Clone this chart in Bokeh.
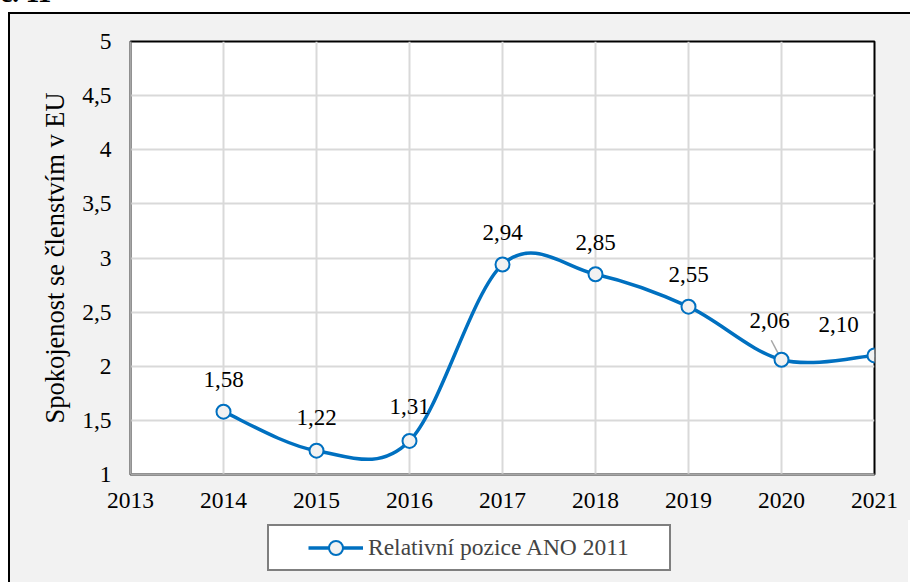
from bokeh.plotting import figure
from bokeh.models import (FixedTicker, Legend, LegendItem, ColumnDataSource, Range1d, Div)
from bokeh.layouts import column
from bokeh.core.properties import value
from bokeh.embed import file_html
from bokeh.resources import INLINE

# ---- data ----
years = [2014, 2015, 2016, 2017, 2018, 2019, 2020, 2021]
values = [1.58, 1.22, 1.31, 2.94, 2.85, 2.55, 2.06, 2.10]
value_labels = ["1,58", "1,22", "1,31", "2,94", "2,85", "2,55", "2,06", "2,10"]
x_ticks = [2013, 2014, 2015, 2016, 2017, 2018, 2019, 2020, 2021]
y_ticks = [1, 1.5, 2, 2.5, 3, 3.5, 4, 4.5, 5]
y_tick_labels = ["1", "1,5", "2", "2,5", "3", "3,5", "4", "4,5", "5"]
series_name = "Relativní pozice ANO 2011"
y_title = "Spokojenost se členstvím v EU"
heading = "Graf č. 11"

# label placement (pixels relative to point)
label_dx = [0, 0, 0, 0, 0, 0, -12, -36]
label_dy = [-32, -33, -34, -32, -32, -32, -39, -31]

FONT = "Liberation Serif"
BLUE = "#0070C0"
BG = "#F2F2F2"

p = figure(frame_width=742, frame_height=431, output_backend="svg", toolbar_location=None,
           x_range=Range1d(2013, 2021), y_range=Range1d(1, 5),
           min_border_left=120, min_border_right=38, min_border_top=27,
           min_border_bottom=48)
p.margin = (0, 0, 0, 8)
p.styles = {"border-top": "2px solid black", "border-left": "2px solid black",
            "background-color": BG}
p.border_fill_color = BG
p.background_fill_color = "white"
p.outline_line_color = "black"
p.outline_line_width = 2

# grid (boundary lines are drawn by the frame / axes)
p.xgrid.ticker = FixedTicker(ticks=x_ticks[1:-1])
p.ygrid.ticker = FixedTicker(ticks=y_ticks[1:-1])
for g in (p.xgrid[0], p.ygrid[0]):
    g.grid_line_color = "#D9D9D9"
    g.grid_line_width = 2

# axes
p.xaxis.ticker = FixedTicker(ticks=x_ticks)
p.yaxis.ticker = FixedTicker(ticks=y_ticks)
p.yaxis.major_label_overrides = {t: l for t, l in zip(y_ticks, y_tick_labels)}
p.xaxis.major_label_overrides = {t: str(t) for t in x_ticks}
for ax in (p.xaxis[0], p.yaxis[0]):
    ax.axis_line_color = "#A6A6A6"
    ax.axis_line_width = 2
    ax.major_tick_line_color = None
    ax.minor_tick_line_color = None
    ax.major_tick_out = 0
    ax.major_tick_in = 0
    ax.major_label_text_font = FONT
    ax.major_label_text_font_size = "23.5px"
    ax.major_label_text_color = "black"
p.xaxis.major_label_standoff = 18
p.yaxis.major_label_standoff = 19
p.yaxis.axis_label = y_title
p.yaxis.axis_label_text_font = FONT
p.yaxis.axis_label_text_font_size = "26.5px"
p.yaxis.axis_label_text_font_style = "normal"
p.yaxis.axis_label_text_color = "black"
p.yaxis.axis_label_standoff = 9

# smooth curve (Catmull-Rom style bezier segments from the data)
n = len(years)
x0, y0, x1, y1, cx0, cy0, cx1, cy1 = [], [], [], [], [], [], [], []
for i in range(n - 1):
    pa = i - 1 if i > 0 else i
    pd = i + 2 if i + 2 < n else i + 1
    x0.append(years[i]); y0.append(values[i])
    x1.append(years[i + 1]); y1.append(values[i + 1])
    cx0.append(years[i] + (years[i + 1] - years[pa]) / 6)
    cy0.append(values[i] + (values[i + 1] - values[pa]) / 6)
    cx1.append(years[i + 1] - (years[pd] - years[i]) / 6)
    cy1.append(values[i + 1] - (values[pd] - values[i]) / 6)
curve_kw = dict(x0=x0, y0=y0, x1=x1, y1=y1, cx0=cx0, cy0=cy0, cx1=cx1, cy1=cy1,
                line_color=BLUE, line_width=3.5)
p.bezier(**curve_kw)

# leader line for 2020 label
i20 = years.index(2020)
p.segment(x0=[years[i20] - 0.025], y0=[values[i20] + 0.04],
          x1=[years[i20] - 0.11], y1=[values[i20] + 0.18],
          line_color="#A6A6A6", line_width=1.5)

src = ColumnDataSource(dict(x=years, y=values, lab=value_labels, dx=label_dx, dy=label_dy))
marker_kw = dict(size=14, marker="circle", fill_color=BG, line_color=BLUE, line_width=2)
p.scatter("x", "y", source=src, **marker_kw)

p.text("x", "y", text="lab", source=src, x_offset="dx", y_offset="dy",
       text_font=value(FONT), text_font_size="23px", text_color="black",
       text_align="center", text_baseline="alphabetic")

# ---- legend strip (separate figure continuing the chart area) ----
lg = figure(width=900, height=62, output_backend="svg", toolbar_location=None,
            x_range=Range1d(0, 1), y_range=Range1d(0, 1),
            x_axis_location=None, y_axis_location=None,
            min_border=0, min_border_left=0, min_border_right=0,
            min_border_top=0, min_border_bottom=0)
lg.margin = (0, 0, 0, 8)
lg.styles = {"border-left": "2px solid black", "background-color": BG}
lg.grid.visible = False
lg.outline_line_color = None
lg.background_fill_color = BG
lg.border_fill_color = BG
# legend swatch renderers (same series, outside the strip's visible range)
lcurve = lg.bezier(**curve_kw)
lpts = lg.scatter("x", "y", source=src, **marker_kw)

legend = Legend(items=[LegendItem(label=series_name, renderers=[lcurve, lpts])],
                location=(137, 11), orientation="horizontal",
                title=" ", title_location="left", title_text_font_size="1px",
                title_standoff=34,
                border_line_color="black", border_line_width=2,
                background_fill_color="white", background_fill_alpha=1,
                label_text_font=FONT, label_text_font_size="23.5px",
                glyph_width=55, glyph_height=35, padding=4, label_standoff=5,
                label_width=297, margin=0)
lg.add_layout(legend, "center")

head = Div(text=('<div style="position:absolute; left:-62px; top:-20px; white-space:nowrap; '
                 'font-family:\'Liberation Serif\'; font-weight:bold; font-size:27px; '
                 'line-height:27px; color:black;">' + heading + '</div>'),
           width=200, height=12, margin=(0, 0, 0, 0),
           styles={"overflow": "visible", "position": "relative"})

layout = column(head, p, lg, spacing=0)
layout.margin = (0, 0, 0, 0)

open("out.html", "w").write(file_html(layout, INLINE))
